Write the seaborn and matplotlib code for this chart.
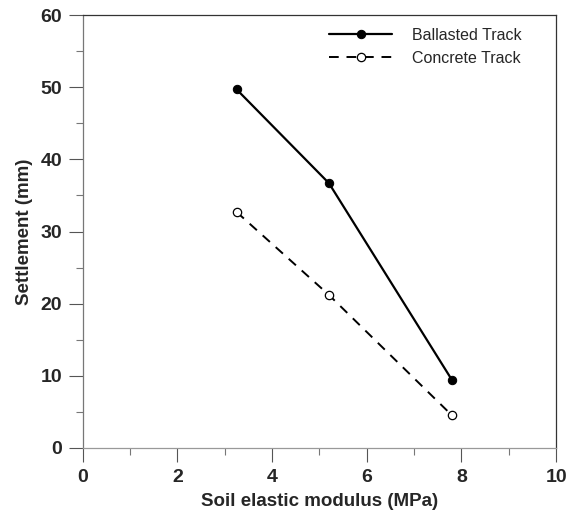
import matplotlib
matplotlib.use("Agg")
import matplotlib.pyplot as plt
import seaborn as sns
import pandas as pd
from matplotlib.ticker import MultipleLocator

modulus = [3.25, 5.2, 7.8]
ballasted = [49.7, 36.7, 9.4]
concrete = [32.7, 21.2, 4.5]
series_names = ["Ballasted Track", "Concrete Track"]

sns.set_theme(style="ticks")
plt.rcParams['font.family'] = ['Liberation Sans', 'DejaVu Sans']

fig = plt.figure(figsize=(5.71, 5.22), dpi=100)
ax = fig.add_axes([0.145, 0.142, 0.829, 0.829])

df_b = pd.DataFrame({"x": modulus, "y": ballasted})
df_c = pd.DataFrame({"x": modulus, "y": concrete})

sns.lineplot(data=df_b, x="x", y="y", ax=ax, color="black", linewidth=1.6,
             marker="o", markersize=6, markerfacecolor="black",
             markeredgecolor="black", label=series_names[0])
sns.lineplot(data=df_c, x="x", y="y", ax=ax, color="black", linewidth=1.4,
             linestyle=(0, (5, 4)), marker="o", markersize=6,
             markerfacecolor="white", markeredgecolor="black",
             markeredgewidth=0.9, label=series_names[1])

ax.set_xlim(0, 10)
ax.set_ylim(0, 60)
ax.xaxis.set_major_locator(MultipleLocator(2))
ax.xaxis.set_minor_locator(MultipleLocator(1))
ax.yaxis.set_major_locator(MultipleLocator(10))
ax.yaxis.set_minor_locator(MultipleLocator(5))
ax.tick_params(which="major", direction="out", length=10, width=0.8,
               color="#555555", labelsize=14, pad=5)
ax.tick_params(which="minor", direction="out", length=5, width=0.8,
               color="#777777")
for lab in ax.get_xticklabels() + ax.get_yticklabels():
    lab.set_fontweight("bold")

ax.set_xlabel("Soil elastic modulus (MPa)", fontsize=13.5, fontweight="bold", labelpad=5)
ax.set_ylabel("Settlement (mm)", fontsize=13.5, fontweight="bold", labelpad=5)

for side in ["top", "right", "left", "bottom"]:
    ax.spines[side].set_visible(True)
    ax.spines[side].set_linewidth(0.9)
ax.spines["top"].set_color("#333333")
ax.spines["right"].set_color("#333333")
ax.spines["left"].set_color("#777777")
ax.spines["bottom"].set_color("#999999")

leg = ax.legend(loc="upper right", bbox_to_anchor=(0.955, 1.0), frameon=False,
                fontsize=11.5, handlelength=3.9, borderaxespad=0.4,
                labelspacing=0.5, handletextpad=1.3)

fig.savefig("out.png", dpi=100, facecolor="white")
